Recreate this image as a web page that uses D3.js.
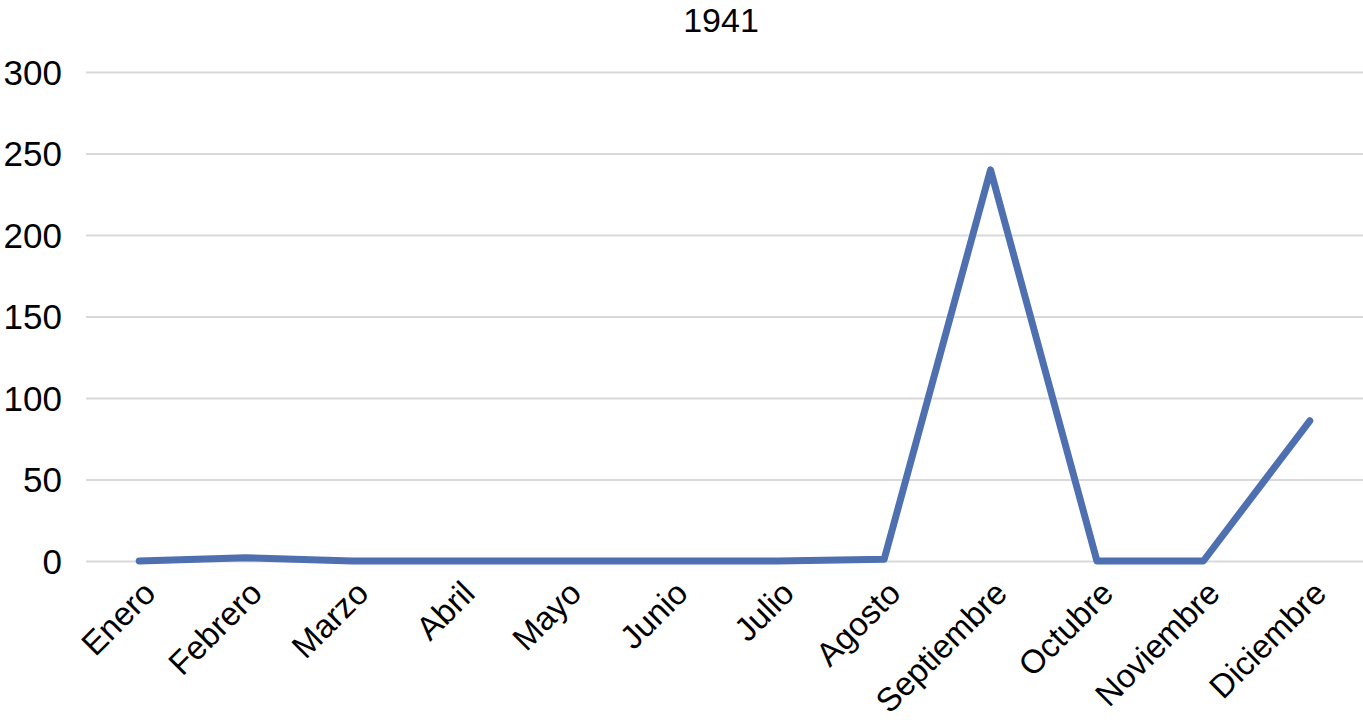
<!DOCTYPE html>
<html><head><meta charset="utf-8">
<script src="https://cdn.jsdelivr.net/npm/d3@7"></script>
<style>
body{margin:0;background:#fff;}
text{font-family:"Liberation Sans",Arial,sans-serif;fill:#000;}
</style></head>
<body><svg id="c" width="1363" height="722"></svg>
<script>
const categories=["Enero","Febrero","Marzo","Abril","Mayo","Junio","Julio","Agosto","Septiembre","Octubre","Noviembre","Diciembre"];
const values=[0,2,0,0,0,0,0,1,240,0,0,86];
const yTicks=[0,50,100,150,200,250,300];
const title="1941";

(function(){
const svg=d3.select("#c");
const mL=86,mR=1363,mT=72,mB=561;
const x=d3.scaleBand().domain(categories).range([mL,mR]);
const y=d3.scaleLinear().domain([0,300]).range([mB,mT]);

svg.append("text").attr("x",721).attr("y",32).attr("text-anchor","middle")
  .style("font-size","34px").text(title);

const ga=svg.append("g").attr("transform",`translate(${mL},0)`)
  .call(d3.axisLeft(y).tickValues(yTicks).tickSize(-(mR-mL)).tickPadding(24).tickFormat(d3.format("d")));
ga.select(".domain").remove();
ga.selectAll(".tick line").attr("stroke","#d9d9d9").attr("stroke-width",2);
ga.selectAll(".tick text").style("font-size","35px").attr("dy","0.35em");

const gx=svg.append("g").attr("transform",`translate(0,${mB})`)
  .call(d3.axisBottom(x).tickSize(0).tickPadding(0));
gx.select(".domain").remove();
gx.selectAll(".tick text").style("font-size","33px")
  .attr("text-anchor","end").attr("y",0)
  .attr("transform","translate(2,18) rotate(-45)").attr("dy","0.7em");

const line=d3.line().x((d,i)=>x(categories[i])+x.bandwidth()/2).y(d=>y(d));
svg.append("path").datum(values).attr("d",line).attr("fill","none")
  .attr("stroke","#4e70b0").attr("stroke-width",7).attr("stroke-linecap","round").attr("stroke-linejoin","round");
})();
</script></body></html>
